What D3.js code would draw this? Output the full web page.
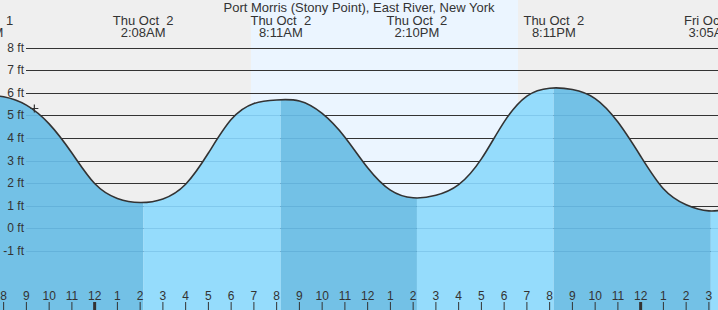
<!DOCTYPE html>
<html>
<head>
<meta charset="utf-8">
<script src="https://cdn.jsdelivr.net/npm/d3@7"></script>
<style>
body { margin: 0; background: #efefef; }
svg text { font-family: "Liberation Sans", Arial, sans-serif; fill: #333; }
</style>
</head>
<body>
<div id="chart"></div>
<script>

// hours counted from midnight Thu Oct 2
var windowHours = [ -4.16, 27.4 ];
var sunHours = [ 6.87, 18.61 ];

var sampleHours = [ -5, -4, -3, -2, -1, 0, 1, 2, 3, 4, 5, 6, 7, 8, 9, 10, 11,
		12, 13, 14, 15, 16, 17, 18, 19, 20, 21, 22, 23, 24, 25, 26, 27, 28 ];
var sampleFeet = [ 5.9, 5.82, 5.45, 4.62, 3.33, 1.98, 1.32, 1.14, 1.3, 1.95,
		3.33, 4.81, 5.52, 5.68, 5.63, 5.08, 4.03, 2.68, 1.69, 1.35, 1.46, 1.93,
		3.07, 4.71, 5.85, 6.2, 6.14, 5.74, 4.7, 3.19, 1.75, 1.04, 0.77, 0.86 ];

var extremeHours = [ -5.0, 2.133, 8.183, 14.167, 20.183, 27.083 ];
var extremeDays = [ "Wed Oct  1", "Thu Oct  2", "Thu Oct  2", "Thu Oct  2",
		"Thu Oct  2", "Fri Oct  3" ];
var extremeTimes = [ "7:00PM", "2:08AM", "8:11AM", "2:10PM", "8:11PM", "3:05AM" ];

var feetTicks = [ -1, 0, 1, 2, 3, 4, 5, 6, 7, 8 ];
var hourTicks = d3.range(-4, 28);

var nowHour = -2.65;
var nowFeet = 5.3;

var title = "Port Morris (Stony Point), East River, New York";

var width = 718, height = 310;

var svg = d3.select("#chart").append("svg") //
.attr("width", width) //
.attr("height", height);

var x = d3.scaleLinear().domain(windowHours).range([ 0, width ]);
var y = d3.scaleLinear().domain([ -1, 8 ]).range([ 250.9, 47.5 ]);

var samples = sampleHours.map(function(h, i) {
	return {
		hour : h,
		feet : sampleFeet[i]
	};
});

// background: night grey, day light blue
svg.append("rect") //
.attr("width", width) //
.attr("height", height) //
.attr("fill", "#efefef");

svg.append("rect") //
.attr("x", x(sunHours[0])) //
.attr("width", x(sunHours[1]) - x(sunHours[0])) //
.attr("y", 0) //
.attr("height", height) //
.attr("fill", "#ebf5ff");

// grid lines above the water
svg.selectAll("line.grid").data(feetTicks).enter().append("line") //
.attr("class", "grid") //
.attr("x1", 26) //
.attr("x2", width) //
.attr("y1", function(d) {
	return Math.round(y(d)) + 0.5;
}) //
.attr("y2", function(d) {
	return Math.round(y(d)) + 0.5;
}) //
.attr("stroke", "#333") //
.attr("stroke-width", 1.2);

// water, coloured by falling / rising tide between extremes
var bounds = [ windowHours[0] - 1 ].concat(extremeHours.slice(1), [ windowHours[1] + 1 ]);
var defs = svg.append("defs");

var area = d3.area() //
.x(function(d) {
	return x(d.hour);
}) //
.y0(height) //
.y1(function(d) {
	return y(d.feet);
}) //
.curve(d3.curveNatural);

defs.append("clipPath").attr("id", "water").append("path") //
.attr("d", area(samples));

var water = svg.append("g").attr("clip-path", "url(#water)");

for ( var i = 0; i < bounds.length - 1; i++) {
	water.append("rect") //
	.attr("x", x(bounds[i])) //
	.attr("width", x(bounds[i + 1]) - x(bounds[i])) //
	.attr("y", 0) //
	.attr("height", height) //
	.attr("fill", i % 2 == 0 ? "#73c1e6" : "#95dcfc");
}// END: bands loop

water.selectAll("line").data(feetTicks).enter().append("line") //
.attr("x1", 26) //
.attr("x2", width) //
.attr("y1", function(d) {
	return Math.round(y(d)) + 0.5;
}) //
.attr("y2", function(d) {
	return Math.round(y(d)) + 0.5;
}) //
.attr("stroke", "rgba(0,80,140,0.13)") //
.attr("stroke-width", 1.2);

// tide curve
var line = d3.line() //
.x(function(d) {
	return x(d.hour);
}) //
.y(function(d) {
	return y(d.feet);
}) //
.curve(d3.curveNatural);

svg.append("path") //
.attr("d", line(samples)) //
.attr("fill", "none") //
.attr("stroke", "#333") //
.attr("stroke-width", 1.6);

// now marker
svg.append("path") //
.attr("d", "M" + (x(nowHour) - 4) + "," + y(nowFeet) + "h8M" + x(nowHour)
		+ "," + (y(nowFeet) - 4) + "v8") //
.attr("stroke", "#333") //
.attr("stroke-width", 1.2);

// y labels
svg.selectAll("text.feet").data(feetTicks).enter().append("text") //
.attr("class", "feet") //
.attr("x", 24) //
.attr("y", function(d) {
	return y(d) + 4;
}) //
.attr("text-anchor", "end") //
.style("font-size", "12px") //
.text(function(d) {
	return d + " ft";
});

// hour ticks and labels
svg.selectAll("line.tick").data(hourTicks).enter().append("line") //
.attr("class", "tick") //
.attr("x1", function(d) {
	return x(d);
}) //
.attr("x2", function(d) {
	return x(d);
}) //
.attr("y1", 302) //
.attr("y2", height) //
.attr("stroke", "#333") //
.attr("stroke-width", function(d) {
	return (d % 24 == 0) ? 3 : 1;
});

svg.selectAll("text.hour").data(hourTicks).enter().append("text") //
.attr("class", "hour") //
.attr("x", function(d) {
	return x(d);
}) //
.attr("y", 300) //
.attr("text-anchor", "middle") //
.style("font-size", "12px") //
.text(function(d) {
	var h = ((d % 12) + 12) % 12;
	return h == 0 ? 12 : h;
});

// extreme labels on top
var labels = svg.selectAll("g.extreme").data(extremeHours).enter().append("g") //
.attr("class", "extreme");

labels.append("text") //
.attr("x", function(d) {
	return x(d);
}) //
.attr("y", 25) //
.attr("text-anchor", "middle") //
.style("font-size", "13px") //
.style("white-space", "pre") //
.text(function(d, i) {
	return extremeDays[i];
});

labels.append("text") //
.attr("x", function(d) {
	return x(d);
}) //
.attr("y", 37) //
.attr("text-anchor", "middle") //
.style("font-size", "13px") //
.text(function(d, i) {
	return extremeTimes[i];
});

svg.append("text") //
.attr("x", width / 2) //
.attr("y", 12) //
.attr("text-anchor", "middle") //
.style("font-size", "13px") //
.text(title);

</script>
</body>
</html>
